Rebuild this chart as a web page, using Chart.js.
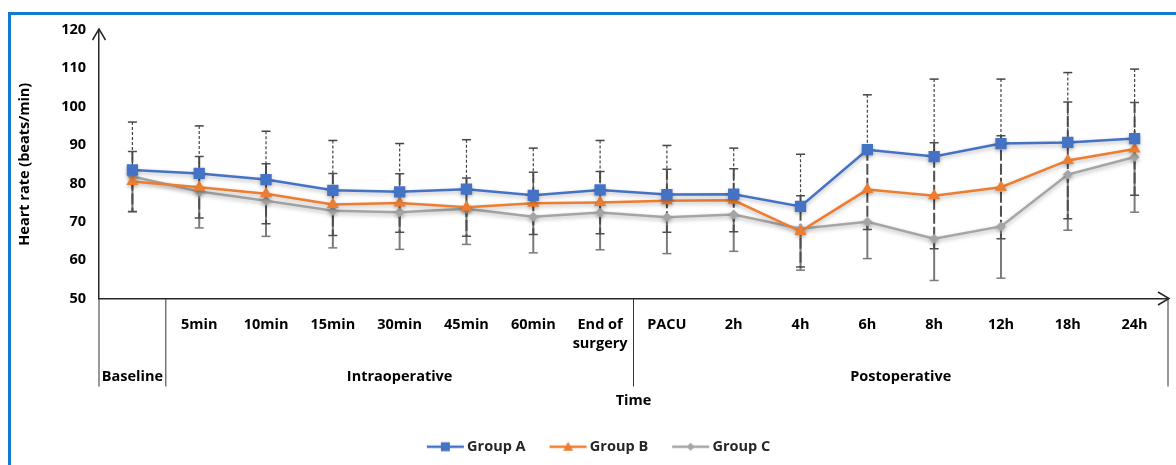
<!DOCTYPE html>
<html>
<head>
<meta charset="utf-8">
<title>Heart rate</title>
<script src="https://cdn.jsdelivr.net/npm/chart.js@4.4.1/dist/chart.umd.min.js"></script>
<style>
    html, body { margin: 0; padding: 0; background: #fff; }
    #wrap { position: relative; width: 1176px; height: 465px; overflow: hidden; }
    #frame {
        position: absolute; left: 8px; top: 12px; width: 1300px; height: 600px;
        border-left: 3px solid #1479d1; border-top: 3px solid #1479d1;
    }
    #chart-box { position: absolute; left: 0; top: 0; width: 1176px; height: 465px; }
</style>
</head>
<body>
<div id="wrap">
    <div id="frame"></div>
    <div id="chart-box"><canvas id="grafico-hr"></canvas></div>
</div>
<script>
// time points on the x axis
const timePoints = ['Baseline', '5min', '10min', '15min', '30min', '45min', '60min', ['End of', 'surgery'],
    'PACU', '2h', '4h', '6h', '8h', '12h', '18h', '24h'];
// phase rows under the time points: [label, first index, last index]
const phases = [['Baseline', 0, 0], ['Intraoperative', 1, 7], ['Postoperative', 8, 15]];
const yTicks = [50, 60, 70, 80, 90, 100, 110, 120];

// mean heart rate (beats/min)
const groupA = [83.5, 82.6, 81.0, 78.2, 77.8, 78.5, 76.9, 78.3, 77.1, 77.2, 74.0, 88.8, 87.0, 90.4, 90.7, 91.7];
const groupB = [80.5, 79.0, 77.3, 74.5, 74.9, 73.8, 74.8, 75.0, 75.5, 75.6, 67.5, 78.4, 76.8, 79.0, 86.0, 89.0];
const groupC = [81.8, 77.9, 75.5, 72.9, 72.5, 73.4, 71.3, 72.4, 71.2, 71.9, 68.2, 70.0, 65.6, 68.8, 82.3, 86.9];

// standard deviations (A shown upward, B both ways, C downward)
const sdA = [12.5, 12.4, 12.6, 13.0, 12.6, 12.9, 12.3, 12.9, 12.8, 12.0, 13.6, 14.3, 20.2, 16.8, 18.2, 18.1];
const sdB = [7.8, 8.0, 7.8, 8.1, 7.6, 7.6, 8.1, 8.1, 8.2, 8.2, 9.3, 10.4, 13.8, 13.4, 15.2, 12.1];
const sdC = [9.2, 9.5, 9.3, 9.7, 9.7, 9.3, 9.4, 9.7, 9.5, 9.6, 10.8, 9.6, 10.9, 13.5, 14.5, 14.4];

const errorBars = [
    { dataset: 2, sd: sdC, up: false, down: true, color: '#7a7a7a', width: 2, dash: [] },
    { dataset: 1, sd: sdB, up: true, down: true, color: '#4f4f4f', width: 2, dash: [11, 3] },
    { dataset: 0, sd: sdA, up: true, down: false, color: '#444', width: 1.2, dash: [3, 2] }
];

Chart.defaults.font.family = 'Open Sans';
Chart.defaults.color = '#000';

const boldFont = { family: 'Open Sans', weight: 'bold', size: 14.5 };

function legendIcon(color, style) {
    const c = document.createElement('canvas');
    c.width = 40;
    c.height = 14;
    const g = c.getContext('2d');
    g.strokeStyle = color;
    g.lineWidth = 2.5;
    g.beginPath();
    g.moveTo(2, 7);
    g.lineTo(39, 7);
    g.stroke();
    g.fillStyle = color;
    g.beginPath();
    if (style === 'rect') {
        g.rect(16, 2.5, 9, 9);
    } else if (style === 'triangle') {
        g.moveTo(20.5, 2);
        g.lineTo(25.5, 11);
        g.lineTo(15.5, 11);
    } else {
        g.moveTo(20.5, 3);
        g.lineTo(24.5, 7);
        g.lineTo(20.5, 11);
        g.lineTo(16.5, 7);
    }
    g.closePath();
    g.fill();
    return c;
}

const decorations = {
    id: 'decorations',
    beforeDatasetDraw(chart) {
        const ctx = chart.ctx;
        ctx.save();
        ctx.shadowColor = 'rgba(0, 0, 0, 0.28)';
        ctx.shadowBlur = 4;
        ctx.shadowOffsetY = 2;
    },
    afterDatasetDraw(chart) {
        chart.ctx.restore();
    },
    beforeDatasetsDraw(chart) {
        const ctx = chart.ctx;
        const y = chart.scales.y;
        errorBars.forEach(bar => {
            const meta = chart.getDatasetMeta(bar.dataset);
            const values = chart.data.datasets[bar.dataset].data;
            ctx.save();
            ctx.strokeStyle = bar.color;
            values.forEach((v, j) => {
                const px = meta.data[j].x;
                const yTop = y.getPixelForValue(bar.up ? v + bar.sd[j] : v);
                const yBot = y.getPixelForValue(bar.down ? v - bar.sd[j] : v);
                ctx.lineWidth = bar.width;
                ctx.setLineDash(bar.dash);
                ctx.beginPath();
                ctx.moveTo(px, yTop);
                ctx.lineTo(px, yBot);
                ctx.stroke();
                ctx.setLineDash([]);
                ctx.lineWidth = 1.5;
                ctx.beginPath();
                if (bar.up) {
                    ctx.moveTo(px - 4.5, yTop);
                    ctx.lineTo(px + 4.5, yTop);
                }
                if (bar.down) {
                    ctx.moveTo(px - 4.5, yBot);
                    ctx.lineTo(px + 4.5, yBot);
                }
                ctx.stroke();
            });
            ctx.restore();
        });
    },
    afterDraw(chart) {
        const ctx = chart.ctx;
        const area = chart.chartArea;
        const x = chart.scales.x;
        ctx.save();
        ctx.strokeStyle = '#262626';
        ctx.lineWidth = 1.5;
        // arrow heads
        ctx.beginPath();
        ctx.moveTo(area.left - 6.5, area.top + 10);
        ctx.lineTo(area.left, area.top - 1);
        ctx.lineTo(area.left + 6.5, area.top + 10);
        ctx.moveTo(area.right - 10, area.bottom - 6.5);
        ctx.lineTo(area.right + 1, area.bottom);
        ctx.lineTo(area.right - 10, area.bottom + 6.5);
        ctx.stroke();

        // phase separators and labels
        const edge = i => {
            if (i < 0) return area.left;
            if (i >= timePoints.length - 1) return area.right;
            return (x.getPixelForValue(i) + x.getPixelForValue(i + 1)) / 2;
        };
        ctx.lineWidth = 1;
        ctx.strokeStyle = '#333';
        ctx.fillStyle = '#000';
        ctx.font = 'bold 14.5px "Open Sans"';
        ctx.textAlign = 'center';
        ctx.textBaseline = 'middle';
        phases.forEach(([label, first, last], k) => {
            const l = edge(first - 1);
            const r = edge(last);
            ctx.beginPath();
            if (k === 0) {
                ctx.moveTo(l, area.bottom);
                ctx.lineTo(l, area.bottom + 88);
            }
            ctx.moveTo(r, area.bottom);
            ctx.lineTo(r, area.bottom + 88);
            ctx.stroke();
            ctx.fillText(label, (l + r) / 2, area.bottom + 78);
        });
        ctx.restore();
    }
};

const ctx = document.getElementById('grafico-hr').getContext('2d');

new Chart(ctx, {
    type: 'line',
    data: {
        labels: timePoints,
        datasets: [
            {
                label: 'Group A',
                data: groupA,
                borderColor: '#4472C4',
                backgroundColor: '#4472C4',
                borderWidth: 2.5,
                pointStyle: 'rect',
                pointRadius: 8,
                pointBorderWidth: 0,
                tension: 0
            },
            {
                label: 'Group B',
                data: groupB,
                borderColor: '#ED7D31',
                backgroundColor: '#ED7D31',
                borderWidth: 2.5,
                pointStyle: 'triangle',
                pointRadius: 7,
                pointBorderWidth: 0,
                tension: 0
            },
            {
                label: 'Group C',
                data: groupC,
                borderColor: '#A5A5A5',
                backgroundColor: '#A5A5A5',
                borderWidth: 2.5,
                pointStyle: 'rectRot',
                pointRadius: 5,
                pointBorderWidth: 0,
                tension: 0
            }
        ]
    },
    options: {
        responsive: true,
        maintainAspectRatio: false,
        animation: false,
        layout: {
            padding: { top: 30, left: 30, right: 6, bottom: 1 }
        },
        plugins: {
            legend: {
                display: true,
                position: 'bottom',
                labels: {
                    usePointStyle: true,
                    pointStyleWidth: 30,
                    padding: 27,
                    color: '#262626',
                    font: boldFont,
                    generateLabels: chart => chart.data.datasets.map((ds, i) => ({
                        text: ds.label,
                        pointStyle: legendIcon(ds.borderColor, ds.pointStyle),
                        fillStyle: ds.borderColor,
                        strokeStyle: ds.borderColor,
                        lineWidth: 0,
                        fontColor: '#262626',
                        hidden: false,
                        datasetIndex: i
                    }))
                }
            },
            tooltip: { enabled: false }
        },
        scales: {
            x: {
                offset: true,
                grid: { display: false, drawTicks: false },
                border: { display: true, color: '#262626', width: 1.5 },
                ticks: {
                    font: { ...boldFont, lineHeight: 1.3 },
                    color: '#000',
                    padding: 17,
                    maxRotation: 0,
                    autoSkip: false,
                    // single-point phases are named in the phase row only
                    callback: (value, i) => phases.some(p => p[1] === i && p[2] === i) ? '' : timePoints[i]
                },
                title: {
                    display: true,
                    text: 'Time',
                    font: boldFont,
                    color: '#000',
                    padding: { top: 40, bottom: 3 }
                },
                afterFit: scale => { scale.height = 114; }
            },
            y: {
                min: 50,
                max: 120,
                afterBuildTicks: scale => { scale.ticks = yTicks.map(v => ({ value: v })); },
                grid: { display: false, drawTicks: false },
                border: { display: true, color: '#262626', width: 1.5 },
                ticks: {
                    font: boldFont,
                    color: '#000',
                    padding: 13
                },
                title: {
                    display: true,
                    text: 'Heart rate (beats/min)',
                    font: boldFont,
                    color: '#000',
                    padding: { top: -14, bottom: 0 }
                },
                afterFit: scale => { scale.width = 69; }
            }
        }
    },
    plugins: [decorations]
});
</script>
</body>
</html>
